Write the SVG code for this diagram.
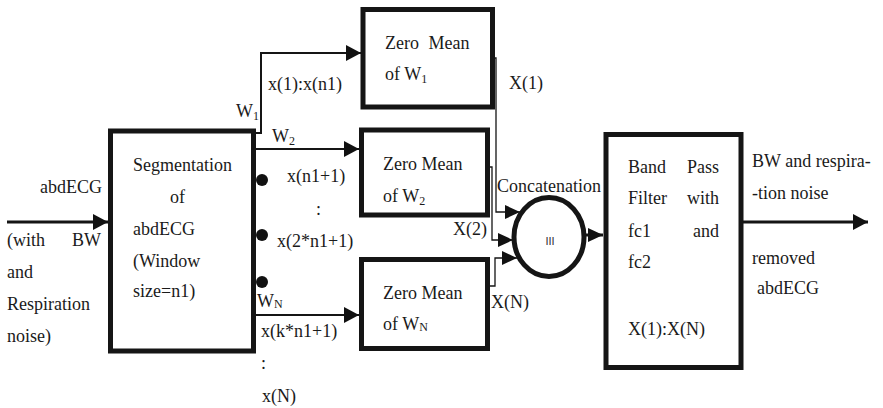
<svg xmlns="http://www.w3.org/2000/svg" width="883" height="408" viewBox="0 0 883 408" font-family="'Liberation Serif','Times New Roman',Times,'Noto Serif','DejaVu Serif',FreeSerif,serif">
  <defs>
    <marker id="ah" markerUnits="userSpaceOnUse" markerWidth="15" markerHeight="16" refX="15" refY="8" orient="auto">
      <path d="M0,0 L15,8 L0,16 z" fill="#111"/>
    </marker>
    <marker id="ahs" markerUnits="userSpaceOnUse" markerWidth="15" markerHeight="14" refX="15" refY="7" orient="auto">
      <path d="M0,0 L15,7 L0,14 z" fill="#111"/>
    </marker>
  </defs>
  <style>
    .box{fill:#fff;stroke:#151515;stroke-width:5}
    text{font-family:'Liberation Serif','Times New Roman',Times,'Noto Serif','DejaVu Serif',FreeSerif,serif;font-size:18px;fill:#1a1a1a}
    .sub{font-size:12px}
    .w{fill:none;stroke:#151515;stroke-width:2}
    .thin{fill:none;stroke:#151515;stroke-width:1.3}
    .io{fill:none;stroke:#151515;stroke-width:3}
    text.glyph{font-family:'Liberation Sans',Arial,sans-serif;font-size:11px;fill:#333}
  </style>
  <rect width="883" height="408" fill="#fff"/>

  <!-- connectors -->
  <g id="connectors">
    <line class="io" x1="7" y1="222" x2="108" y2="222" marker-end="url(#ah)"/>
    <path class="w" d="M254,133 H261 V53 H361" marker-end="url(#ah)"/>
    <line class="w" x1="255" y1="149" x2="359" y2="149" marker-end="url(#ah)"/>
    <line class="w" x1="255" y1="315" x2="359" y2="315" marker-end="url(#ah)"/>
    <path class="thin" d="M494,58 H496 V212 H520" marker-end="url(#ahs)"/>
    <path class="thin" d="M489,167 H492 V240 H513" marker-end="url(#ahs)"/>
    <path class="thin" d="M489,286 H495 V258 H517" marker-end="url(#ahs)"/>
    <line class="io" x1="586" y1="235" x2="603" y2="235" marker-end="url(#ahs)"/>
    <line class="io" x1="743" y1="222" x2="868" y2="222" marker-end="url(#ah)"/>
  </g>

  <!-- input label -->
  <g id="input-label">
    <text x="40" y="193">abdECG</text>
    <text x="7" y="246">(with</text>
    <text x="72" y="246">BW</text>
    <text x="7" y="278">and</text>
    <text x="7" y="310">Respiration</text>
    <text x="7" y="342">noise)</text>
  </g>

  <!-- segmentation block -->
  <g id="segmentation">
    <rect class="box" x="110.5" y="131" width="143" height="220"/>
    <text x="133" y="171">Segmentation</text>
    <text x="170" y="203">of</text>
    <text x="133" y="235">abdECG</text>
    <text x="133" y="267">(Window</text>
    <text x="133" y="297">size=n1)</text>
    <circle cx="262" cy="180" r="6" fill="#111"/>
    <circle cx="262" cy="235" r="6" fill="#111"/>
    <circle cx="262" cy="282" r="6" fill="#111"/>
  </g>

  <!-- window labels -->
  <g id="window-labels">
    <text x="236" y="117">W<tspan class="sub" dy="3">1</tspan></text>
    <text x="268" y="90">x(1):x(n1)</text>
    <text x="272" y="142">W<tspan class="sub" dy="3">2</tspan></text>
    <text x="287" y="182">x(n1+1)</text>
    <text x="316" y="215">:</text>
    <text x="277" y="247">x(2*n1+1)</text>
    <text x="257" y="307">W<tspan class="sub" dy="1">N</tspan></text>
    <text x="261" y="337">x(k*n1+1)</text>
    <text x="261" y="369">:</text>
    <text x="262" y="402">x(N)</text>
  </g>

  <!-- zero mean blocks -->
  <g id="zero-mean-1">
    <rect class="box" x="363" y="9.5" width="129.5" height="97.5"/>
    <text x="385" y="49" word-spacing="5">Zero Mean</text>
    <text x="385" y="80">of W<tspan class="sub" dy="3">1</tspan></text>
  </g>
  <g id="zero-mean-2">
    <rect class="box" x="361.5" y="130" width="126" height="85"/>
    <text x="383" y="170">Zero Mean</text>
    <text x="383" y="202">of W<tspan class="sub" dy="3">2</tspan></text>
  </g>
  <g id="zero-mean-n">
    <rect class="box" x="361.5" y="259.5" width="126" height="89"/>
    <text x="383" y="299">Zero Mean</text>
    <text x="383" y="330">of W<tspan class="sub" dy="1">N</tspan></text>
  </g>

  <!-- concatenation -->
  <g id="concatenation">
    <text x="509" y="89">X(1)</text>
    <text x="453" y="235">X(2)</text>
    <text x="491" y="308">X(N)</text>
    <text x="497" y="192">Concatenation</text>
    <ellipse cx="549" cy="237" rx="35" ry="39.5" fill="#fff" stroke="#151515" stroke-width="5"/>
    <text class="glyph" x="550" y="245" text-anchor="middle">III</text>
  </g>

  <!-- band pass filter -->
  <g id="band-pass">
    <rect class="box" x="606" y="134.5" width="135" height="233" stroke-width="5.5"/>
    <text x="628" y="173">Band</text>
    <text x="719" y="173" text-anchor="end">Pass</text>
    <text x="628" y="204">Filter</text>
    <text x="719" y="204" text-anchor="end">with</text>
    <text x="628" y="237">fc1</text>
    <text x="719" y="237" text-anchor="end">and</text>
    <text x="628" y="268">fc2</text>
    <text x="628" y="335">X(1):X(N)</text>
  </g>

  <!-- output label -->
  <g id="output-label">
    <text x="752" y="167">BW and respira-</text>
    <text x="752" y="199">-tion noise</text>
    <text x="752" y="264">removed</text>
    <text x="757" y="294">abdECG</text>
  </g>
</svg>
